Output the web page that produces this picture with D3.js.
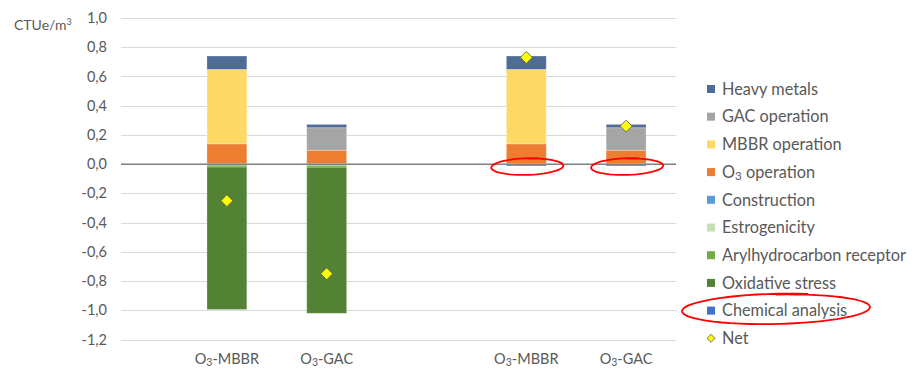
<!DOCTYPE html>
<html>
<head>
<meta charset="utf-8">
<script src="https://cdn.jsdelivr.net/npm/d3@7"></script>
<style>
  body { margin: 0; background: #fff; }
  text { font-family: Lato, "Open Sans", sans-serif; fill: #595959; }
</style>
</head>
<body>
<div id="chart"></div>
<script>
// categories on the x axis (middle slot is an empty gap), "_3" = subscript 3
const categories = ["O_3-MBBR", "O_3-GAC", "", "O_3-MBBR", "O_3-GAC"];
const barSlots = [0, 1, 3, 4];

// series values, one per bar
const chemicalAnalysis = [0, 0, -0.012, -0.012];
const oxidativeStress = [-0.975, -1.0, 0, 0];
const arylhydrocarbon = [-0.013, -0.013, 0, 0];
const estrogenicity = [-0.007, -0.008, 0, 0];
const construction = [0.005, 0.005, 0.005, 0.005];
const o3Operation = [0.134, 0.09, 0.134, 0.09];
const mbbrOperation = [0.509, 0, 0.509, 0];
const gacOperation = [0, 0.154, 0, 0.154];
const heavyMetals = [0.092, 0.023, 0.092, 0.023];
const net = [-0.25, -0.75, 0.73, 0.26];

const yTicks = [1.0, 0.8, 0.6, 0.4, 0.2, 0, -0.2, -0.4, -0.6, -0.8, -1.0, -1.2];

// series in stacking order, with legend labels and colours
const series = [
    {key: "chem", label: "Chemical analysis", values: chemicalAnalysis, color: "#4472C4"},
    {key: "estro", label: "Estrogenicity", values: estrogenicity, color: "#C5E0B4"},
    {key: "aryl", label: "Arylhydrocarbon receptor", values: arylhydrocarbon, color: "#70AD47"},
    {key: "oxi", label: "Oxidative stress", values: oxidativeStress, color: "#548235"},
    {key: "constr", label: "Construction", values: construction, color: "#5B9BD5"},
    {key: "o3", label: "O_3 operation", values: o3Operation, color: "#ED7D31"},
    {key: "mbbr", label: "MBBR operation", values: mbbrOperation, color: "#FFD966"},
    {key: "gac", label: "GAC operation", values: gacOperation, color: "#A5A5A5"},
    {key: "heavy", label: "Heavy metals", values: heavyMetals, color: "#4E6C96"}
];
const legendOrder = ["heavy", "gac", "mbbr", "o3", "constr", "estro", "aryl", "oxi", "chem"];

const width = 915, height = 368;
const plotLeft = 121, plotRight = 676, plotTop = 18, plotBottom = 339.5;

const svg = d3.select("#chart").append("svg")
    .attr("width", width)
    .attr("height", height);

// writes a label, turning "_3" into a lowered small 3
function subText(sel, str) {
    const parts = str.split("_3");
    parts.forEach((part, i) => {
        if (i > 0) {
            sel.append("tspan").attr("dy", 2).style("font-size", "0.72em").text("3");
            sel.append("tspan").attr("dy", -2).text(part);
        } else {
            sel.append("tspan").text(part);
        }
    });
}

const x = d3.scaleBand()
    .domain(d3.range(categories.length))
    .range([177, plotRight])
    .paddingInner(0.6)
    .paddingOuter(0.3);

const y = d3.scaleLinear()
    .domain([-1.2, 1.0])
    .range([plotBottom, plotTop]);

// gridlines
svg.append("g")
    .selectAll("line")
    .data(yTicks.filter(t => t !== 0))
    .join("line")
    .attr("x1", plotLeft)
    .attr("x2", plotRight)
    .attr("y1", d => Math.round(y(d)) + 0.5)
    .attr("y2", d => Math.round(y(d)) + 0.5)
    .attr("stroke", "#D9D9D9")
    .attr("stroke-width", 1);

// y axis labels
svg.append("g")
    .selectAll("text")
    .data(yTicks)
    .join("text")
    .attr("x", 107)
    .attr("y", d => y(d))
    .attr("dy", "0.35em")
    .attr("text-anchor", "end")
    .style("font-size", "14.5px")
    .text(d => d3.format(".1f")(d).replace(".", ",").replace("\u2212", "-"));

// unit label
const unit = svg.append("text")
    .attr("x", 14)
    .attr("y", 30)
    .style("font-size", "14px");
unit.append("tspan").text("CTUe/m");
unit.append("tspan").attr("dy", -5).style("font-size", "9px").text("3");

// stacked bars
const rows = barSlots.map((slot, i) => {
    const row = {slot: slot};
    series.forEach(s => { row[s.key] = s.values[i]; });
    return row;
});

const stack = d3.stack()
    .keys(series.map(s => s.key))
    .offset(d3.stackOffsetDiverging);

const layers = stack(rows);

svg.append("g")
    .selectAll("g")
    .data(layers)
    .join("g")
    .attr("fill", (d, i) => series[i].color)
    .selectAll("rect")
    .data(d => d.filter(p => p[1] !== p[0]))
    .join("rect")
    .attr("x", d => x(d.data.slot))
    .attr("width", x.bandwidth())
    .attr("y", d => y(Math.max(d[0], d[1])))
    .attr("height", d => Math.abs(y(d[0]) - y(d[1])))
    .attr("stroke", "rgba(255,255,255,0.35)")
    .attr("stroke-width", 0.8);

// zero line
svg.append("line")
    .attr("x1", plotLeft)
    .attr("x2", plotRight)
    .attr("y1", y(0))
    .attr("y2", y(0))
    .attr("stroke", "#7F7F7F")
    .attr("stroke-width", 1.5);

// net markers
const diamond = d3.symbol().type(d3.symbolSquare).size(72);
svg.append("g")
    .selectAll("path")
    .data(net)
    .join("path")
    .attr("d", diamond)
    .attr("transform", (d, i) => `translate(${x(barSlots[i]) + x.bandwidth() / 2},${y(d)}) rotate(45)`)
    .attr("fill", "#FFFF00")
    .attr("stroke", "#595959")
    .attr("stroke-width", 0.8);

// x axis labels
svg.append("g")
    .selectAll("text")
    .data(barSlots)
    .join("text")
    .attr("x", d => x(d) + x.bandwidth() / 2)
    .attr("y", 359)
    .attr("dy", "0.35em")
    .attr("text-anchor", "middle")
    .style("font-size", "14.5px")
    .each(function(d) { subText(d3.select(this), categories[d]); });

// legend
const legendItems = legendOrder.map(k => series.find(s => s.key === k))
    .concat([{key: "net", label: "Net"}]);
const legendY = i => 89 + i * 27.7;

const legend = svg.append("g")
    .selectAll("g")
    .data(legendItems)
    .join("g")
    .attr("transform", (d, i) => `translate(707,${legendY(i)})`);

legend.filter(d => d.key !== "net")
    .append("rect")
    .attr("x", 0)
    .attr("y", -4)
    .attr("width", 8)
    .attr("height", 8)
    .attr("fill", d => d.color);

legend.filter(d => d.key === "net")
    .append("path")
    .attr("d", d3.symbol().type(d3.symbolSquare).size(32))
    .attr("transform", "translate(4,0) rotate(45)")
    .attr("fill", "#FFFF00")
    .attr("stroke", "#595959")
    .attr("stroke-width", 0.8);

legend.append("text")
    .attr("x", 15)
    .attr("y", 0)
    .attr("dy", "0.35em")
    .style("font-size", "16.3px")
    .each(function(d) { subText(d3.select(this), d.label); });

// red hand-drawn circles (annotation)
function handEllipse(cx, cy, rx, ry, tilt) {
    const p = d3.path();
    const start = -Math.PI / 2;
    const steps = 60;
    for (let k = 0; k <= steps; k++) {
        const a = start + (k / steps) * (2 * Math.PI + 0.35);
        const grow = 1 + 0.06 * k / steps;
        const px = cx + rx * Math.cos(a);
        const py = cy + ry * grow * Math.sin(a) + tilt * Math.cos(a);
        if (k === 0) p.moveTo(px, py); else p.lineTo(px, py);
    }
    return p.toString();
}

const notes = svg.append("g")
    .attr("fill", "none")
    .attr("stroke", "#FF0000")
    .attr("stroke-width", 1.8);

[3, 4].forEach(slot => {
    notes.append("path")
        .attr("d", handEllipse(x(slot) + x.bandwidth() / 2 + 1, y(0) + 2.5, 36, 8, -1));
});

notes.append("path")
    .attr("d", handEllipse(776, legendY(8) - 1.5, 94, 14.5, -2));
</script>
</body>
</html>
